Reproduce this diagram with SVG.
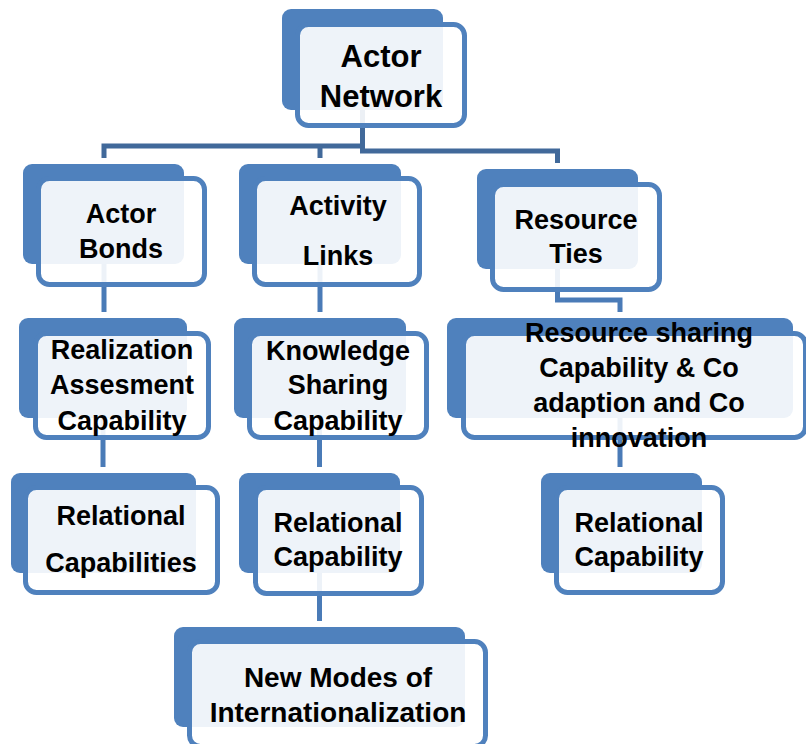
<svg xmlns="http://www.w3.org/2000/svg" width="806" height="744" viewBox="0 0 806 744">
  <style>
    .back { fill: #4f81bd; }
    .front { fill: #ffffff; fill-opacity: 0.9; stroke: #4f81bd; stroke-width: 5; }
    .lbl { font-family: "Liberation Sans", Arial, sans-serif; font-weight: bold; font-size: 27px; fill: #000000; text-anchor: middle; }
    .big { font-size: 31px; }
    .trunk { fill: none; stroke: #41699a; stroke-width: 5; }
    .link { fill: none; stroke: #4a7bb7; stroke-width: 5; }
  </style>
  <rect width="806" height="744" fill="#ffffff"/>

  <!-- connectors sit behind the boxes -->
  <g id="connectors">
    <path class="trunk" d="M104,158 V146 H362.5"/>
    <path class="trunk" d="M320,146 V158"/>
    <path class="trunk" d="M362.5,110 V151 H557.5 V163"/>
    <path class="link" d="M104,264 V312"/>
    <path class="link" d="M103,418 V467"/>
    <path class="link" d="M320,264 V312"/>
    <path class="link" d="M319.5,418 V467"/>
    <path class="link" d="M319.5,573 V621"/>
    <path class="link" d="M557.5,269 V300 H620 V312"/>
    <path class="link" d="M620,418 V467"/>
  </g>

  <g id="actor-network">
    <rect class="back" x="282" y="9" width="161" height="101" rx="9"/>
    <rect class="front" x="297.5" y="24.5" width="167" height="101" rx="11"/>
    <text class="lbl big" x="381" y="67">Actor</text>
    <text class="lbl big" x="381" y="107">Network</text>
  </g>

  <g id="actor-bonds">
    <rect class="back" x="23" y="164" width="161" height="100" rx="9"/>
    <rect class="front" x="38.5" y="178.5" width="166" height="106" rx="11"/>
    <text class="lbl" x="121" y="223">Actor</text>
    <text class="lbl" x="121" y="258">Bonds</text>
  </g>

  <g id="activity-links">
    <rect class="back" x="239" y="164" width="162" height="100" rx="9"/>
    <rect class="front" x="254.5" y="178.5" width="165" height="106" rx="11"/>
    <text class="lbl" x="338" y="215">Activity</text>
    <text class="lbl" x="338" y="265">Links</text>
  </g>

  <g id="resource-ties">
    <rect class="back" x="477" y="169" width="161" height="100" rx="9"/>
    <rect class="front" x="492.5" y="184.5" width="167" height="105" rx="11"/>
    <text class="lbl" x="576" y="229">Resource</text>
    <text class="lbl" x="576" y="263">Ties</text>
  </g>

  <g id="realization-assessment">
    <rect class="back" x="19" y="318" width="168" height="100" rx="9"/>
    <rect class="front" x="35.5" y="333.5" width="173" height="104" rx="11"/>
    <text class="lbl" x="122" y="359">Realization</text>
    <text class="lbl" x="122" y="394">Assesment</text>
    <text class="lbl" x="122" y="430">Capability</text>
  </g>

  <g id="knowledge-sharing">
    <rect class="back" x="234" y="318" width="172" height="100" rx="9"/>
    <rect class="front" x="249.5" y="333.5" width="177" height="104" rx="11"/>
    <text class="lbl" x="338" y="360">Knowledge</text>
    <text class="lbl" x="338" y="394">Sharing</text>
    <text class="lbl" x="338" y="430">Capability</text>
  </g>

  <g id="resource-sharing">
    <rect class="back" x="447" y="318" width="346" height="100" rx="9"/>
    <rect class="front" x="463.5" y="333.5" width="342" height="104" rx="11"/>
    <text class="lbl" x="639" y="342">Resource sharing</text>
    <text class="lbl" x="639" y="377">Capability &amp; Co</text>
    <text class="lbl" x="639" y="412">adaption and Co</text>
    <text class="lbl" x="639" y="447">innovation</text>
  </g>

  <g id="relational-capabilities">
    <rect class="back" x="11" y="473" width="185" height="100" rx="9"/>
    <rect class="front" x="25.5" y="487.5" width="192" height="105" rx="11"/>
    <text class="lbl" x="121" y="525">Relational</text>
    <text class="lbl" x="121" y="572">Capabilities</text>
  </g>

  <g id="relational-capability-mid">
    <rect class="back" x="239" y="473" width="161" height="100" rx="9"/>
    <rect class="front" x="255.5" y="487.5" width="166" height="106" rx="11"/>
    <text class="lbl" x="338" y="532">Relational</text>
    <text class="lbl" x="338" y="566">Capability</text>
  </g>

  <g id="relational-capability-right">
    <rect class="back" x="541" y="473" width="161" height="100" rx="9"/>
    <rect class="front" x="556.5" y="487.5" width="166" height="105" rx="11"/>
    <text class="lbl" x="639" y="532">Relational</text>
    <text class="lbl" x="639" y="566">Capability</text>
  </g>

  <g id="new-modes">
    <rect class="back" x="174" y="627" width="291" height="100" rx="9"/>
    <rect class="front" x="189.5" y="641.5" width="296" height="105" rx="11"/>
    <text class="lbl" x="338" y="687" style="font-size:28px">New Modes of</text>
    <text class="lbl" x="338" y="722" style="font-size:28px">Internationalization</text>
  </g>
</svg>
